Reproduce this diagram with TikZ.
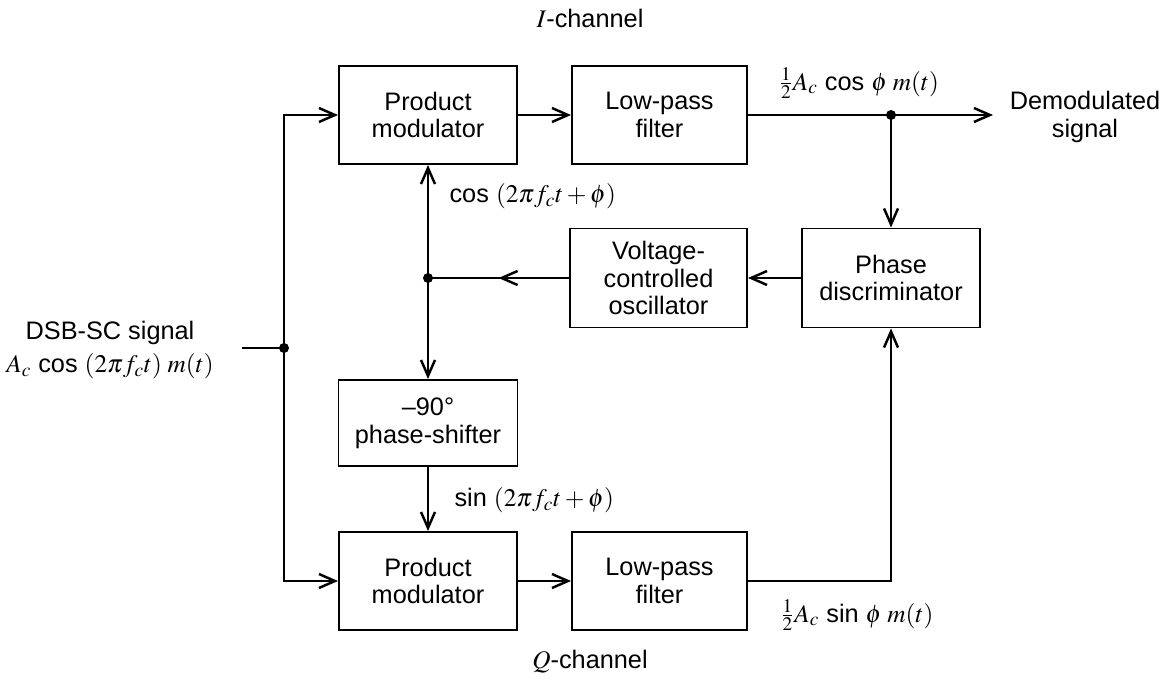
\documentclass[tikz,border=0pt]{standalone}
\usepackage{mathptmx}
\usepackage{fontspec}
\setmainfont{Liberation Sans}
\usetikzlibrary{arrows.meta}
\usetikzlibrary{decorations.markings}
\tikzset{blk/.style={draw, line width=1.1pt, align=center, inner sep=0pt,
    minimum width=3.56cm, minimum height=1.96cm}}
\tikzset{mid arrow/.style={postaction={decorate}, decoration={markings,
    mark=at position 0.5 with {\arrow{Straight Barb[length=3.2mm,width=2.8mm]}}}}}

\begin{document}
\begin{tikzpicture}[line width=1.4pt, >={Straight Barb[length=3.2mm,width=2.8mm]},
    font=\fontsize{14.4}{15.8}\selectfont]

    \useasboundingbox (0,0) rectangle (23.48,-13.6);

    \coordinate (P1) at (8.56, -2.3);
    \coordinate (L1) at (13.19, -2.3);
    \coordinate (V) at (13.17, -5.56);
    \coordinate (PD) at (17.82, -5.56);
    \coordinate (S) at (8.56, -8.46);
    \coordinate (P2) at (8.56, -11.62);
    \coordinate (L2) at (13.19, -11.62);

    \coordinate (In) at (4.84, -6.96);
    \coordinate (N) at (5.68, -6.96);
    \coordinate (J) at (8.56, -5.56);
    \coordinate (D) at (17.82, -2.3);
    \coordinate (Out) at (19.86, -2.3);

    % blocks
    \node[blk] (pmI) at (P1) {Product\\modulator};
    \node[blk, minimum width=3.5cm] (lpfI) at (L1) {Low-pass\\filter};
    \node[blk, minimum width=3.54cm, minimum height=1.98cm] (vco) at (V) {Voltage-\\controlled\\oscillator};
    \node[blk, minimum height=1.98cm] (pd) at (PD) {Phase\\discriminator};
    \node[blk, minimum width=3.58cm, minimum height=1.72cm] (shift) at (S) {--90°\\phase-shifter};
    \node[blk] (pmQ) at (P2) {Product\\modulator};
    \node[blk, minimum width=3.5cm] (lpfQ) at (L2) {Low-pass\\filter};

    % input side
    \draw (In) -- (N);
    \draw[->] (N) |- (pmI.west);
    \draw[->] (N) |- (pmQ.west);

    % I-channel
    \draw[->] (pmI.east) -- (lpfI.west);
    \draw[->] (lpfI.east) -- (Out);
    \draw[->] (D) -- (pd.north);

    % loop
    \draw[->] (pd.west) -- (vco.east);
    \draw[mid arrow] (vco.west) -- (J);
    \draw[->] (J) -- (pmI.south);
    \draw[->] (J) -- (shift.north);
    \draw[->] (shift.south) -- (pmQ.north);

    % Q-channel
    \draw[->] (pmQ.east) -- (lpfQ.west);
    \draw[->] (lpfQ.east) -| (pd.south);

    \fill (N) circle (0.1);
    \fill (J) circle (0.1);
    \fill (D) circle (0.1);

%labels
    \node (ich) at (11.8, -0.36) {$I$-channel};
    \node (qch) at (11.8, -13.24) {$Q$-channel};
    \node[anchor=west] (cosl) at (8.85, -3.92) {cos $(2\pi f_c t + \phi)$};
    \node[anchor=west] (sinl) at (8.95, -10.0) {sin $(2\pi f_c t + \phi)$};
    \node (iout) at (17.18, -1.66) {$\frac{1}{2}A_c$ cos $\phi\; m(t)$};
    \node (qout) at (17.14, -12.3) {$\frac{1}{2}A_c$ sin $\phi\; m(t)$};
    \node[align=center] (demod) at (21.7, -2.34) {Demodulated\\signal};
    \node[align=center] (dsb) at (2.2, -7.0) {DSB-SC signal\\[3pt]$A_c$ cos $(2\pi f_c t)\; m(t)$};
\end{tikzpicture}
\end{document}
